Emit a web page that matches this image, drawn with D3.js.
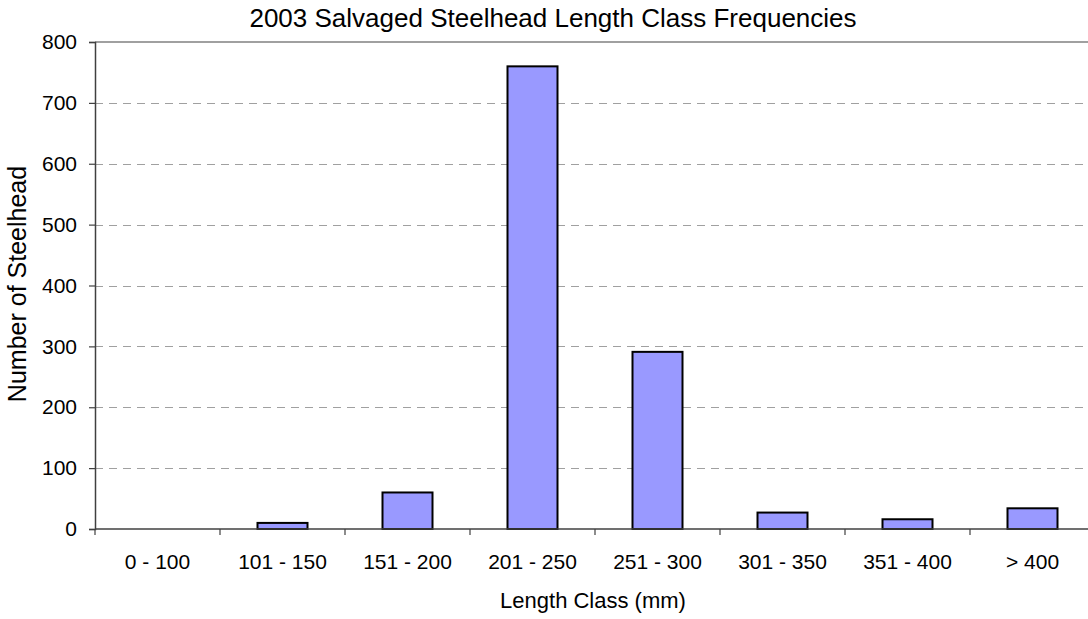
<!DOCTYPE html>
<html>
<head>
<meta charset="utf-8">
<script src="https://cdn.jsdelivr.net/npm/d3@7"></script>
<style>
  body { margin: 0; background: #fff; }
  svg { display: block; font-family: "Liberation Sans", Arial, sans-serif; }
</style>
</head>
<body>
<div id="chart"></div>
<script>
const width = 1088;
const height = 619;

// data
const classes = ["0 - 100", "101 - 150", "151 - 200", "201 - 250", "251 - 300", "301 - 350", "351 - 400", "> 400"];
const counts = [0, 10, 60, 760, 291, 27, 16, 34];
const yTicks = [0, 100, 200, 300, 400, 500, 600, 700, 800];

const margin = {top: 42, left: 95, bottom: 529};
const plotRight = margin.left + 125 * classes.length;

const x = d3.scaleBand()
    .domain(classes)
    .range([margin.left, plotRight])
    .paddingInner(0.6)
    .paddingOuter(0.3);

const y = d3.scaleLinear()
    .domain([0, 800])
    .range([margin.bottom, margin.top]);

const svg = d3.select("#chart").append("svg")
    .attr("width", width)
    .attr("height", height);

// gridlines
svg.append("g")
  .selectAll("line")
  .data(yTicks.filter(d => d > 0 && d < 800))
  .join("line")
    .attr("x1", margin.left)
    .attr("x2", plotRight)
    .attr("y1", d => Math.round(y(d)) + 0.5)
    .attr("y2", d => Math.round(y(d)) + 0.5)
    .attr("stroke", "#a0a0a0")
    .attr("stroke-dasharray", "8,6");

// top border
svg.append("line")
    .attr("x1", margin.left)
    .attr("x2", plotRight)
    .attr("y1", y(800))
    .attr("y2", y(800))
    .attr("stroke", "#808080")
    .attr("stroke-width", 1.5);

// bars
svg.append("g")
  .selectAll("rect")
  .data(classes)
  .join("rect")
    .attr("x", d => x(d))
    .attr("width", x.bandwidth())
    .attr("y", (d, i) => y(counts[i]))
    .attr("height", (d, i) => y(0) - y(counts[i]))
    .attr("fill", "#9999ff")
    .attr("stroke", "#000")
    .attr("stroke-width", 2)
    .style("display", (d, i) => counts[i] > 0 ? null : "none");

// y axis
const yAxis = svg.append("g")
    .attr("transform", `translate(${margin.left},0)`)
    .call(d3.axisLeft(y).tickValues(yTicks).tickSize(6).tickPadding(12));
yAxis.attr("font-size", null).attr("font-family", null);
yAxis.select(".domain").attr("stroke", "#404040").attr("stroke-width", 1.5);
yAxis.selectAll(".tick line").attr("stroke", "#404040").attr("stroke-width", 1.2);
yAxis.selectAll("text").attr("font-size", 21).attr("fill", "#000");

// x axis with ticks between categories
const xAxisG = svg.append("g")
    .attr("transform", `translate(0,${margin.bottom})`);
xAxisG.append("line")
    .attr("x1", margin.left)
    .attr("x2", plotRight)
    .attr("stroke", "#404040")
    .attr("stroke-width", 1.5);
xAxisG.selectAll(".sep")
  .data(d3.range(classes.length + 1))
  .join("line")
    .attr("class", "sep")
    .attr("x1", i => margin.left + i * 125)
    .attr("x2", i => margin.left + i * 125)
    .attr("y1", 0)
    .attr("y2", 6)
    .attr("stroke", "#404040")
    .attr("stroke-width", 1.2);
xAxisG.selectAll("text")
  .data(classes)
  .join("text")
    .attr("x", d => x(d) + x.bandwidth() / 2)
    .attr("y", 40)
    .attr("text-anchor", "middle")
    .attr("font-size", 21)
    .text(d => d);

// titles
svg.append("text")
    .attr("x", 553)
    .attr("y", 27)
    .attr("text-anchor", "middle")
    .attr("font-size", 26)
    .text("2003 Salvaged Steelhead Length Class Frequencies");

svg.append("text")
    .attr("x", 593)
    .attr("y", 608)
    .attr("text-anchor", "middle")
    .attr("font-size", 22)
    .text("Length Class (mm)");

svg.append("text")
    .attr("transform", "translate(26,284) rotate(-90)")
    .attr("text-anchor", "middle")
    .attr("font-size", 25)
    .text("Number of Steelhead");
</script>
</body>
</html>
